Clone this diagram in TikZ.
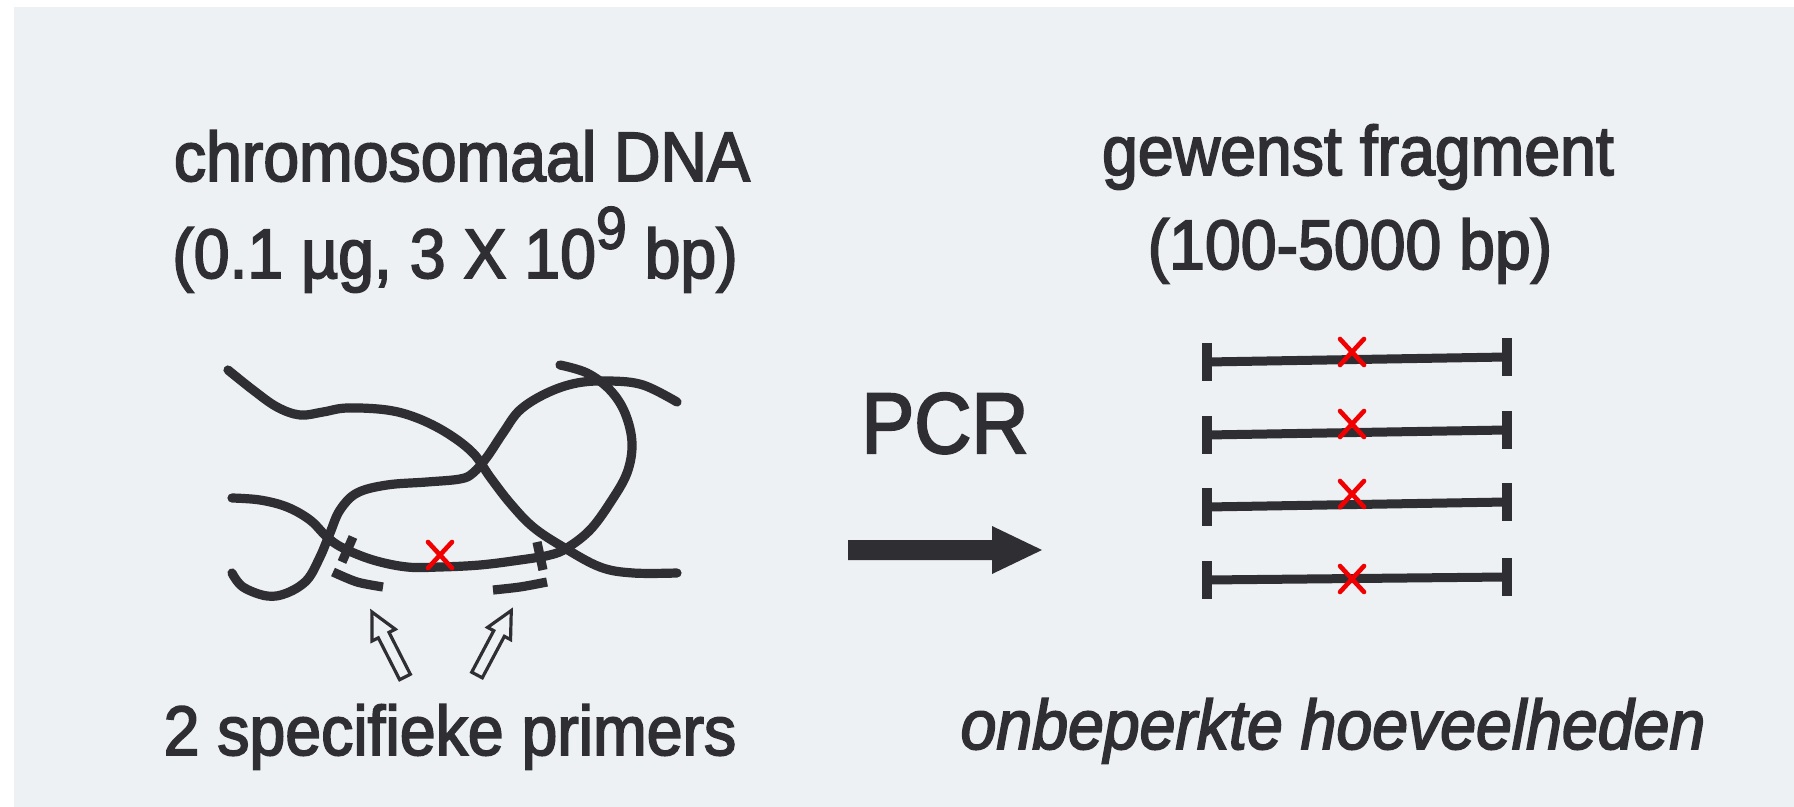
\documentclass[tikz,border=0pt]{standalone}
\usepackage{fontspec}
\setmainfont{Liberation Sans}[FakeStretch=0.92, FakeBold=2.5]
\usetikzlibrary{calc}
\definecolor{paper}{HTML}{EDF1F4}
\definecolor{ink}{HTML}{2E2E33}
\definecolor{markred}{HTML}{F00000}

\tikzset{
  strand/.style={ink, line width=4.6pt, line cap=round, line join=round},
  fragline/.style={ink, line width=4.5pt, line cap=butt},
  fragend/.style={ink, line width=4.6pt, line cap=butt},
  label/.style={inner sep=0pt, text=ink, font=\fontsize{35pt}{40pt}\selectfont},
  redcross/.pic={\draw[markred, line width=2.3pt, line cap=round]
      (-12,-13) -- (12,13) (-12,13) -- (12,-13);},
  primerarrow/.pic={\draw[ink, line width=1.6pt, line join=miter, fill=paper]
      (0,-6) -- (47,-6) -- (47,-13) -- (73,0) -- (47,13) -- (47,6) -- (0,6) -- cycle;}
}

\begin{document}
\begin{tikzpicture}[x=0.5pt, y=-0.5pt]
  % page and paper
  \useasboundingbox (0,0) rectangle (1794,807);
  \fill[white] (0,0) rectangle (1794,807);
  \fill[paper] (14,7) rectangle (1794,807);

  % headings
  \node[label, anchor=base] (dna) at (462,181) {chromosomaal DNA};
  \node[label, anchor=base] (dnaamount) at (455,278)
    {(0.1 µg, 3 X 10\raisebox{0.42em}{\fontsize{30pt}{32pt}\selectfont 9} bp)};
  \node[label, anchor=base] (frag) at (1358,175) {gewenst fragment};
  \node[label, anchor=base] (fragsize) at (1350,269) {(100-5000 bp)};
  \node[label, anchor=base] (primers) at (450,755) {2 specifieke primers};
  \node[label, anchor=base, font=\fontsize{35pt}{40pt}\selectfont\itshape] (amount)
    at (1333,749) {onbeperkte hoeveelheden};
  \node[inner sep=0pt, anchor=base, text=ink, font=\fontsize{43pt}{48pt}\selectfont] (pcr)
    at (945,453) {PCR};

  % PCR arrow
  \coordinate (pcrtail) at (848,550);
  \coordinate (pcrtip) at (1042,550);
  \fill[ink] ($(pcrtail)+(0,-10)$) -- ($(pcrtip)+(-50,-10)$) -- ($(pcrtip)+(-50,-24)$)
    -- (pcrtip) -- ($(pcrtip)+(-50,24)$) -- ($(pcrtip)+(-50,10)$) -- ($(pcrtail)+(0,10)$) -- cycle;

  % tangled chromosomal DNA
  \draw[strand] plot[smooth, tension=0.6] coordinates {
    (228,370) (253,390) (277,407) (300,415) (323,412) (347,408) (387,410) (417,418)
    (447,433) (473,453) (490,477) (510,503) (533,527) (563,547) (600,567) (633,573) (677,573)};
  \draw[strand] plot[smooth, tension=0.6] coordinates {
    (232,498) (260,500) (287,507) (310,520) (327,537) (343,548) (373,560) (407,567)
    (440,567) (480,565) (520,560) (550,555) (567,548) (590,530) (610,503) (627,473)
    (632,443) (625,413) (610,390) (587,373) (560,365)};
  \draw[strand] plot[smooth, tension=0.6] coordinates {
    (232,573) (243,587) (267,596) (287,593) (307,580) (320,557) (330,533) (340,510)
    (357,493) (387,485) (427,482) (460,479) (473,473) (487,457) (503,433) (520,410)
    (547,393) (577,383) (610,381) (643,385) (677,402)};

  % primer sites and bound primers
  \draw[strand, line cap=butt] (353,537) -- (342,562);
  \draw[strand, line cap=butt] (537,542) -- (543,570);
  \draw[strand, line cap=butt] plot[smooth] coordinates {(333,572) (357,582) (383,587)};
  \draw[strand, line cap=butt] plot[smooth] coordinates {(493,590) (520,587) (547,582)};
  \pic at (440,555) {redcross};

  % arrows to the primers
  \pic[rotate=117] at (405,677) {primerarrow};
  \pic[rotate=62] at (477,675) {primerarrow};

  % amplified fragments
  \foreach \i/\yl/\yr/\xy in {1/362/357/352, 2/435/430/424, 3/507/502/494, 4/580/577/579} {
    \coordinate (l\i) at (1207,\yl);
    \coordinate (r\i) at (1507,\yr);
    \draw[fragline] (l\i) -- (r\i);
    \draw[fragend] ($(l\i)+(0,-19)$) -- ($(l\i)+(0,19)$);
    \draw[fragend] ($(r\i)+(0,-19)$) -- ($(r\i)+(0,19)$);
    \pic at (1352,\xy) {redcross};
  }
\end{tikzpicture}
\end{document}
